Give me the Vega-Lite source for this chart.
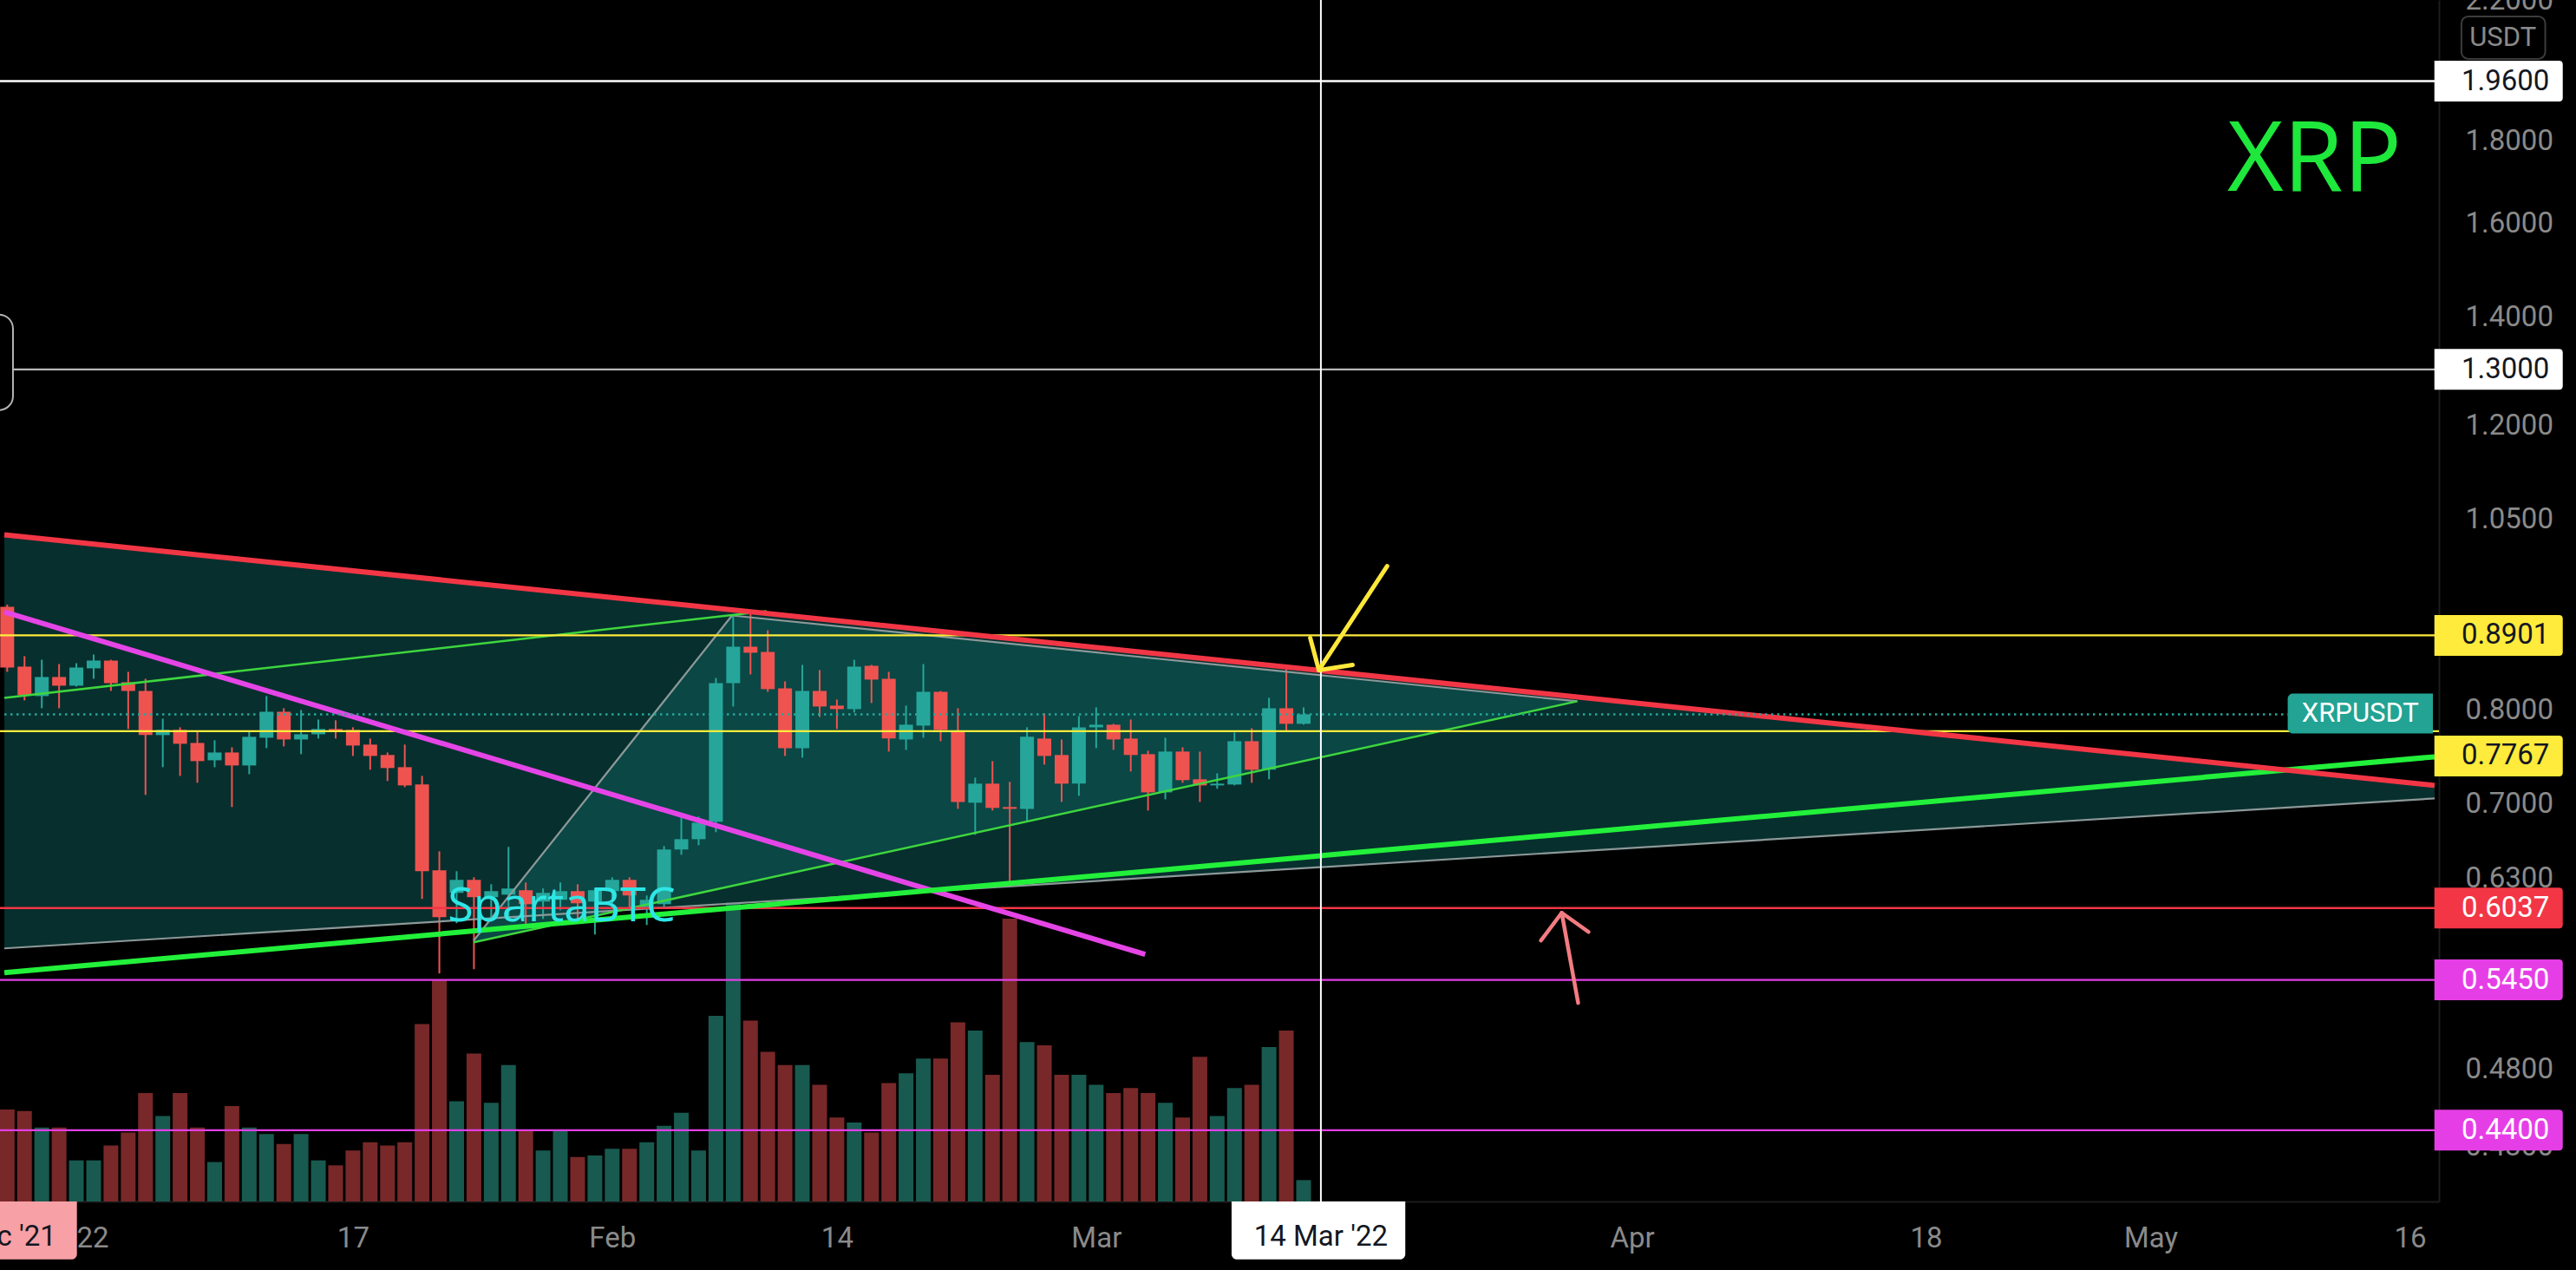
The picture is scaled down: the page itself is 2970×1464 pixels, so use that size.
{
  "$schema": "https://vega.github.io/schema/vega-lite/v6.json",
  "width": 2812,
  "height": 1385,
  "autosize": {"type": "none"},
  "padding": {"left": 0, "top": 0, "right": 158, "bottom": 79},
  "background": "#000000",
  "config": {"view": {"stroke": null}, "axis": {"grid": false, "titleOpacity": 0}, "legend": {"disable": true}},
  "datasets": {
    "candles": [
      {"date":"2021-12-28","open":0.9271,"high":0.93,"low":0.8451,"close":0.8503,"volume":560},
      {"date":"2021-12-29","open":0.8514,"high":0.8641,"low":0.8114,"close":0.8174,"volume":550},
      {"date":"2021-12-30","open":0.8164,"high":0.8598,"low":0.8024,"close":0.8389,"volume":450},
      {"date":"2021-12-31","open":0.8389,"high":0.8545,"low":0.8024,"close":0.8286,"volume":450},
      {"date":"2022-01-01","open":0.8286,"high":0.8556,"low":0.8275,"close":0.8503,"volume":250},
      {"date":"2022-01-02","open":0.8493,"high":0.8662,"low":0.8368,"close":0.8588,"volume":250},
      {"date":"2022-01-03","open":0.8588,"high":0.8598,"low":0.8224,"close":0.8316,"volume":340},
      {"date":"2022-01-04","open":0.8327,"high":0.8451,"low":0.779,"close":0.8224,"volume":420},
      {"date":"2022-01-05","open":0.8224,"high":0.8368,"low":0.7092,"close":0.7723,"volume":660},
      {"date":"2022-01-06","open":0.7723,"high":0.7906,"low":0.7378,"close":0.778,"volume":520},
      {"date":"2022-01-07","open":0.778,"high":0.7809,"low":0.7287,"close":0.7628,"volume":660},
      {"date":"2022-01-08","open":0.7637,"high":0.7771,"low":0.7216,"close":0.7442,"volume":450},
      {"date":"2022-01-09","open":0.7451,"high":0.7666,"low":0.7378,"close":0.7534,"volume":240},
      {"date":"2022-01-10","open":0.7534,"high":0.759,"low":0.6971,"close":0.7396,"volume":580},
      {"date":"2022-01-11","open":0.7396,"high":0.7771,"low":0.7305,"close":0.7704,"volume":450},
      {"date":"2022-01-12","open":0.7694,"high":0.8164,"low":0.7581,"close":0.7984,"volume":410},
      {"date":"2022-01-13","open":0.7984,"high":0.8024,"low":0.76,"close":0.7675,"volume":350},
      {"date":"2022-01-14","open":0.7675,"high":0.8004,"low":0.7516,"close":0.7732,"volume":410},
      {"date":"2022-01-15","open":0.7732,"high":0.7896,"low":0.7685,"close":0.779,"volume":250},
      {"date":"2022-01-16","open":0.779,"high":0.7887,"low":0.7685,"close":0.7771,"volume":220},
      {"date":"2022-01-17","open":0.778,"high":0.7809,"low":0.7497,"close":0.7609,"volume":310},
      {"date":"2022-01-18","open":0.7619,"high":0.7685,"low":0.7351,"close":0.7497,"volume":360},
      {"date":"2022-01-19","open":0.7507,"high":0.7534,"low":0.7234,"close":0.7369,"volume":340},
      {"date":"2022-01-20","open":0.7378,"high":0.7619,"low":0.7171,"close":0.7189,"volume":360},
      {"date":"2022-01-21","open":0.7198,"high":0.7287,"low":0.6116,"close":0.6362,"volume":1080},
      {"date":"2022-01-22","open":0.637,"high":0.6545,"low":0.55,"close":0.5959,"volume":1350},
      {"date":"2022-01-23","open":0.6169,"high":0.6362,"low":0.5908,"close":0.6284,"volume":610},
      {"date":"2022-01-24","open":0.6284,"high":0.6307,"low":0.5534,"close":0.6131,"volume":900},
      {"date":"2022-01-25","open":0.6131,"high":0.6245,"low":0.5922,"close":0.6184,"volume":600},
      {"date":"2022-01-26","open":0.6153,"high":0.6586,"low":0.5944,"close":0.6207,"volume":830},
      {"date":"2022-01-27","open":0.6192,"high":0.6261,"low":0.5893,"close":0.607,"volume":430},
      {"date":"2022-01-28","open":0.6093,"high":0.6207,"low":0.5944,"close":0.6169,"volume":310},
      {"date":"2022-01-29","open":0.6108,"high":0.6261,"low":0.6018,"close":0.6184,"volume":430},
      {"date":"2022-01-30","open":0.6184,"high":0.6245,"low":0.5922,"close":0.6078,"volume":270},
      {"date":"2022-01-31","open":0.6093,"high":0.6207,"low":0.5814,"close":0.6192,"volume":280},
      {"date":"2022-02-01","open":0.6184,"high":0.6307,"low":0.6041,"close":0.6284,"volume":320},
      {"date":"2022-02-02","open":0.6284,"high":0.6307,"low":0.6041,"close":0.6146,"volume":320},
      {"date":"2022-02-03","open":0.6033,"high":0.6146,"low":0.5893,"close":0.6108,"volume":360},
      {"date":"2022-02-04","open":0.607,"high":0.6594,"low":0.6033,"close":0.6562,"volume":460},
      {"date":"2022-02-05","open":0.6562,"high":0.6868,"low":0.6513,"close":0.6659,"volume":540},
      {"date":"2022-02-06","open":0.6659,"high":0.6877,"low":0.6602,"close":0.6817,"volume":310},
      {"date":"2022-02-07","open":0.6826,"high":0.8378,"low":0.6726,"close":0.8316,"volume":1130},
      {"date":"2022-02-08","open":0.8316,"high":0.9157,"low":0.8044,"close":0.8759,"volume":1820},
      {"date":"2022-02-09","open":0.8759,"high":0.918,"low":0.842,"close":0.8684,"volume":1100},
      {"date":"2022-02-10","open":0.8694,"high":0.8967,"low":0.8214,"close":0.8245,"volume":910},
      {"date":"2022-02-11","open":0.8255,"high":0.8337,"low":0.7497,"close":0.7581,"volume":830},
      {"date":"2022-02-12","open":0.7581,"high":0.8535,"low":0.7479,"close":0.8224,"volume":830},
      {"date":"2022-02-13","open":0.8224,"high":0.8472,"low":0.7925,"close":0.8044,"volume":710},
      {"date":"2022-02-14","open":0.8054,"high":0.8124,"low":0.779,"close":0.8014,"volume":510},
      {"date":"2022-02-15","open":0.8014,"high":0.8598,"low":0.7975,"close":0.8514,"volume":480},
      {"date":"2022-02-16","open":0.8524,"high":0.8535,"low":0.8084,"close":0.8358,"volume":420},
      {"date":"2022-02-17","open":0.8368,"high":0.8451,"low":0.7544,"close":0.7685,"volume":720},
      {"date":"2022-02-18","open":0.7675,"high":0.8054,"low":0.7562,"close":0.7838,"volume":780},
      {"date":"2022-02-19","open":0.7828,"high":0.8545,"low":0.7694,"close":0.8214,"volume":870},
      {"date":"2022-02-20","open":0.8214,"high":0.8224,"low":0.7656,"close":0.778,"volume":870},
      {"date":"2022-02-21","open":0.7771,"high":0.8024,"low":0.6953,"close":0.7022,"volume":1090},
      {"date":"2022-02-22","open":0.7014,"high":0.7269,"low":0.6701,"close":0.7207,"volume":1040},
      {"date":"2022-02-23","open":0.7207,"high":0.7442,"low":0.6936,"close":0.6962,"volume":770},
      {"date":"2022-02-24","open":0.6971,"high":0.7225,"low":0.6222,"close":0.6953,"volume":1720},
      {"date":"2022-02-25","open":0.6953,"high":0.7809,"low":0.6834,"close":0.7704,"volume":970},
      {"date":"2022-02-26","open":0.7685,"high":0.7965,"low":0.7405,"close":0.7497,"volume":950},
      {"date":"2022-02-27","open":0.7507,"high":0.7675,"low":0.7022,"close":0.7207,"volume":770},
      {"date":"2022-02-28","open":0.7207,"high":0.7935,"low":0.7083,"close":0.7809,"volume":770},
      {"date":"2022-03-01","open":0.7809,"high":0.8034,"low":0.7581,"close":0.7838,"volume":710},
      {"date":"2022-03-02","open":0.7838,"high":0.7848,"low":0.7562,"close":0.7675,"volume":660},
      {"date":"2022-03-03","open":0.7685,"high":0.7896,"low":0.7333,"close":0.7507,"volume":690},
      {"date":"2022-03-04","open":0.7516,"high":0.7553,"low":0.6936,"close":0.7118,"volume":660},
      {"date":"2022-03-05","open":0.7118,"high":0.7694,"low":0.7048,"close":0.7544,"volume":600},
      {"date":"2022-03-06","open":0.7544,"high":0.759,"low":0.7216,"close":0.7243,"volume":510},
      {"date":"2022-03-07","open":0.7252,"high":0.7544,"low":0.7022,"close":0.7189,"volume":880},
      {"date":"2022-03-08","open":0.7189,"high":0.7314,"low":0.7154,"close":0.7207,"volume":520},
      {"date":"2022-03-09","open":0.7198,"high":0.7751,"low":0.7189,"close":0.7656,"volume":690},
      {"date":"2022-03-10","open":0.7656,"high":0.7799,"low":0.7216,"close":0.7351,"volume":710},
      {"date":"2022-03-11","open":0.7351,"high":0.8144,"low":0.7252,"close":0.8024,"volume":940},
      {"date":"2022-03-12","open":0.8024,"high":0.8524,"low":0.7771,"close":0.7848,"volume":1040},
      {"date":"2022-03-13","open":0.7848,"high":0.8034,"low":0.7838,"close":0.7955,"volume":130}
    ],
    "levels": [
      {"price":1.96,"tag":1.96,"label":"1.9600","style":"white"},
      {"price":1.3,"tag":1.3,"label":"1.3000","style":"silver"},
      {"price":0.8901,"tag":0.8901,"label":"0.8901","style":"yellow"},
      {"price":0.7767,"tag":0.7497,"label":"0.7767","style":"yellow"},
      {"price":0.6037,"tag":0.6037,"label":"0.6037","style":"red"},
      {"price":0.545,"tag":0.545,"label":"0.5450","style":"magenta"},
      {"price":0.44,"tag":0.44,"label":"0.4400","style":"magenta"}
    ],
    "segments": [
      {"name":"res","t1":"2021-12-27T20:00:00Z","p1":1.0271,"t2":"2022-05-17T10:24:00Z","p2":0.7189},
      {"name":"sup","t1":"2021-12-27T20:00:00Z","p1":0.5506,"t2":"2022-05-17T10:24:00Z","p2":0.7488},
      {"name":"down","t1":"2021-12-27T20:00:00Z","p1":0.9203,"t2":"2022-03-03T20:00:00Z","p2":0.5651},
      {"name":"thinUpper","t1":"2021-12-27T20:00:00Z","p1":0.8144,"t2":"2022-02-09T22:24:00Z","p2":0.9214},
      {"name":"thinLower","t1":"2022-01-23T23:36:00Z","p1":0.5749,"t2":"2022-03-28T20:00:00Z","p2":0.8104},
      {"name":"grayAB","t1":"2022-01-23T23:36:00Z","p1":0.5764,"t2":"2022-02-07T22:24:00Z","p2":0.9157},
      {"name":"grayBD","t1":"2022-02-07T22:24:00Z","p1":0.9157,"t2":"2022-03-28T20:00:00Z","p2":0.8104},
      {"name":"grayLow","t1":"2021-12-27T20:00:00Z","p1":0.57,"t2":"2022-05-17T10:24:00Z","p2":0.7057},
      {"name":"yArrow","t1":"2022-03-17T20:00:00Z","p1":0.9825,"t2":"2022-03-13T21:12:00Z","p2":0.8472},
      {"name":"yArrow","t1":"2022-03-13T21:12:00Z","p1":0.8472,"t2":"2022-03-13T09:12:00Z","p2":0.8868},
      {"name":"yArrow","t1":"2022-03-13T21:12:00Z","p1":0.8472,"t2":"2022-03-15T20:00:00Z","p2":0.8535},
      {"name":"pArrow","t1":"2022-03-28T21:12:00Z","p1":0.5274,"t2":"2022-03-27T22:24:00Z","p2":0.5996},
      {"name":"pArrow","t1":"2022-03-27T22:24:00Z","p1":0.5996,"t2":"2022-03-26T17:36:00Z","p2":0.5764},
      {"name":"pArrow","t1":"2022-03-27T22:24:00Z","p1":0.5996,"t2":"2022-03-29T11:36:00Z","p2":0.5835}
    ],
    "wedge": [
      {"t":"2021-12-27T20:00:00Z","top":1.0271,"bot":0.57},
      {"t":"2022-05-17T10:24:00Z","top":0.7189,"bot":0.7057}
    ],
    "triangle": [
      {"t":"2022-01-23T23:36:00Z","top":0.5756,"bot":0.5756},
      {"t":"2022-02-07T22:24:00Z","top":0.9157,"bot":0.6231},
      {"t":"2022-03-28T20:00:00Z","top":0.8104,"bot":0.8104}
    ]
  },
  "resolve": {"scale": {"y": "independent"}},
  "layer": [
    {
      "layer": [
        {
          "data": {"name": "wedge"},
          "mark": {"type": "area", "color": "#072f2e", "opacity": 1},
          "encoding": {
            "x": {
              "field": "t", "type": "temporal",
              "scale": {"type": "utc", "nice": false, "domain": [{"year":2021,"month":12,"date":27,"hours":20,"utc":true},{"year":2022,"month":5,"date":17,"hours":10,"minutes":24,"utc":true}]},
              "axis": {
                "title": null,
                "values": [{"year":2022,"month":1,"date":1,"utc":true},{"year":2022,"month":1,"date":17,"utc":true},{"year":2022,"month":2,"date":1,"utc":true},{"year":2022,"month":2,"date":14,"utc":true},{"year":2022,"month":3,"date":1,"utc":true},{"year":2022,"month":4,"date":1,"utc":true},{"year":2022,"month":4,"date":18,"utc":true},{"year":2022,"month":5,"date":1,"utc":true},{"year":2022,"month":5,"date":16,"utc":true}],
                "labelExpr": "utcdate(datum.value) == 1 ? (utcmonth(datum.value) == 0 ? utcFormat(datum.value, '%Y') : utcFormat(datum.value, '%b')) : utcFormat(datum.value, '%-d')",
                "labelColor": "#8a8a8a", "labelFont": "Roboto", "labelFontSize": 33, "labelPadding": 26,
                "ticks": false, "tickSize": 0, "grid": false, "domain": true, "domainColor": "#1c1c1c", "domainWidth": 2,
                "labelOverlap": false, "labelFlush": false
              }
            },
            "y": {"field": "top", "type": "quantitative", "scale": {"type": "log", "domain": [0.3975, 2.2], "nice": false}, "axis": null},
            "y2": {"field": "bot"}
          }
        },
        {
          "data": {"name": "triangle"},
          "mark": {"type": "area", "color": "#0a4745", "opacity": 1},
          "encoding": {
            "x": {"field": "t", "type": "temporal"},
            "y": {"field": "top", "type": "quantitative"},
            "y2": {"field": "bot"}
          }
        }
      ]
    },
    {
      "data": {"name": "candles"},
      "mark": {"type": "bar", "width": 17},
      "encoding": {
        "x": {"field": "date", "type": "temporal"},
        "y": {"field": "volume", "type": "quantitative", "scale": {"domain": [0, 7310], "nice": false}, "axis": null},
        "color": {"condition": {"test": "datum.close >= datum.open", "value": "#185a50"}, "value": "#782828"}
      }
    },
    {
      "layer": [
        {
          "data": {"name": "candles"},
          "mark": {"type": "rule", "strokeWidth": 2},
          "encoding": {
            "x": {"field": "date", "type": "temporal"},
            "y": {
              "field": "low", "type": "quantitative",
              "scale": {"type": "log", "domain": [0.3975, 2.2], "nice": false},
              "axis": {
                "title": null, "orient": "right",
                "values": [2.2, 1.8, 1.6, 1.4, 1.2, 1.05, 0.8, 0.7, 0.63, 0.48, 0.43],
                "format": ".4f", "labelColor": "#8a8a8a", "labelFont": "Roboto", "labelFontSize": 33,
                "labelPadding": 30, "ticks": false, "tickSize": 0, "grid": false,
                "domain": true, "domainColor": "#1c1c1c", "domainWidth": 2,
                "labelOverlap": false, "labelFlush": false, "labelBound": false
              }
            },
            "y2": {"field": "high"},
            "color": {"condition": {"test": "datum.close >= datum.open", "value": "#26a69a"}, "value": "#ef5350"}
          }
        },
        {
          "data": {"name": "candles"},
          "mark": {"type": "bar", "width": 16},
          "encoding": {
            "x": {"field": "date", "type": "temporal"},
            "y": {"field": "open", "type": "quantitative"},
            "y2": {"field": "close"},
            "color": {"condition": {"test": "datum.close >= datum.open", "value": "#26a69a"}, "value": "#ef5350"}
          }
        },
        {
          "data": {"name": "segments"},
          "transform": [{"filter": "indexof(['grayAB','grayBD','grayLow'], datum.name) >= 0"}],
          "mark": {"type": "rule", "color": "#8d9999", "strokeWidth": 2.2},
          "encoding": {
            "x": {"field": "t1", "type": "temporal"}, "x2": {"field": "t2"},
            "y": {"field": "p1", "type": "quantitative"}, "y2": {"field": "p2"}
          }
        },
        {
          "data": {"name": "segments"},
          "transform": [{"filter": "indexof(['thinUpper','thinLower'], datum.name) >= 0"}],
          "mark": {"type": "rule", "color": "#3ed63e", "strokeWidth": 2.5},
          "encoding": {
            "x": {"field": "t1", "type": "temporal"}, "x2": {"field": "t2"},
            "y": {"field": "p1", "type": "quantitative"}, "y2": {"field": "p2"}
          }
        },
        {
          "data": {"name": "levels"},
          "mark": {"type": "rule", "strokeWidth": 2.3},
          "encoding": {
            "y": {"field": "price", "type": "quantitative"},
            "stroke": {"field": "style", "type": "nominal", "legend": null,
              "scale": {"domain": ["white", "silver", "yellow", "red", "magenta"], "range": ["#ffffff", "#b8b8b8", "#ffeb3b", "#f23645", "#e23fe6"]}}
          }
        },
        {
          "data": {"name": "segments"},
          "transform": [{"filter": "datum.name == 'down'"}],
          "mark": {"type": "rule", "color": "#e545e6", "strokeWidth": 6},
          "encoding": {
            "x": {"field": "t1", "type": "temporal"}, "x2": {"field": "t2"},
            "y": {"field": "p1", "type": "quantitative"}, "y2": {"field": "p2"}
          }
        },
        {
          "data": {"name": "segments"},
          "transform": [{"filter": "datum.name == 'sup'"}],
          "mark": {"type": "rule", "color": "#22f03a", "strokeWidth": 6},
          "encoding": {
            "x": {"field": "t1", "type": "temporal"}, "x2": {"field": "t2"},
            "y": {"field": "p1", "type": "quantitative"}, "y2": {"field": "p2"}
          }
        },
        {
          "data": {"name": "segments"},
          "transform": [{"filter": "datum.name == 'res'"}],
          "mark": {"type": "rule", "color": "#f23645", "strokeWidth": 6},
          "encoding": {
            "x": {"field": "t1", "type": "temporal"}, "x2": {"field": "t2"},
            "y": {"field": "p1", "type": "quantitative"}, "y2": {"field": "p2"}
          }
        },
        {
          "data": {"values": [{}]},
          "mark": {"type": "rule", "color": "#26a69a", "strokeWidth": 2.5, "strokeDash": [2.5, 4.5]},
          "encoding": {
            "x": {"datum": {"year":2021,"month":12,"date":27,"hours":20,"utc":true}, "type": "temporal"},
            "x2": {"datum": {"year":2022,"month":5,"date":8,"hours":22,"minutes":24,"utc":true}},
            "y": {"datum": 0.7955}
          }
        },
        {
          "data": {"values": [{}]},
          "mark": {"type": "rule", "color": "#ffffff", "strokeWidth": 2},
          "encoding": {
            "x": {"datum": {"year":2022,"month":3,"date":14,"utc":true}, "type": "temporal"}
          }
        },
        {
          "data": {"name": "segments"},
          "transform": [{"filter": "datum.name == 'yArrow'"}],
          "mark": {"type": "rule", "color": "#ffe83b", "strokeWidth": 5, "strokeCap": "round"},
          "encoding": {
            "x": {"field": "t1", "type": "temporal"}, "x2": {"field": "t2"},
            "y": {"field": "p1", "type": "quantitative"}, "y2": {"field": "p2"}
          }
        },
        {
          "data": {"name": "segments"},
          "transform": [{"filter": "datum.name == 'pArrow'"}],
          "mark": {"type": "rule", "color": "#f27c82", "strokeWidth": 4.5, "strokeCap": "round"},
          "encoding": {
            "x": {"field": "t1", "type": "temporal"}, "x2": {"field": "t2"},
            "y": {"field": "p1", "type": "quantitative"}, "y2": {"field": "p2"}
          }
        },
        {
          "data": {"values": [{}]},
          "mark": {"type": "text", "text": "SpartaBTC", "font": "Open Sans", "fontSize": 54, "color": "#2ee6e6", "align": "left", "baseline": "alphabetic"},
          "encoding": {
            "x": {"datum": {"year":2022,"month":1,"date":22,"hours":11,"minutes":36,"utc":true}, "type": "temporal"},
            "y": {"datum": 0.5923}
          }
        },
        {
          "data": {"values": [{}]},
          "mark": {"type": "text", "text": "XRP", "font": "Open Sans", "fontSize": 112, "color": "#1ee83c", "align": "center", "baseline": "alphabetic"},
          "encoding": {
            "x": {"datum": {"year":2022,"month":5,"date":10,"hours":11,"minutes":36,"utc":true}, "type": "temporal"},
            "y": {"datum": 1.6768}
          }
        },
        {
          "data": {"values": [{}]},
          "mark": {"type": "rect", "fill": "#000000", "stroke": "#b4b4b4", "strokeWidth": 2, "cornerRadius": 16},
          "encoding": {
            "x": {"datum": {"year":2021,"month":12,"date":17,"hours":20,"utc":true}, "type": "temporal"},
            "x2": {"datum": {"year":2021,"month":12,"date":28,"hours":8,"utc":true}},
            "y": {"datum": 1.4055},
            "y2": {"datum": 1.2269}
          }
        },
        {
          "data": {"name": "levels"},
          "mark": {"type": "point", "shape": "M-1,-0.3176H0.94Q1,-0.3176 1,-0.26V0.26Q1,0.3176 0.94,0.3176H-1Z", "filled": true, "size": 21904, "strokeWidth": 0, "opacity": 1},
          "encoding": {
            "x": {"datum": {"year":2022,"month":5,"date":21,"hours":3,"minutes":12,"utc":true}, "type": "temporal"},
            "y": {"field": "tag", "type": "quantitative"},
            "fill": {"field": "style", "type": "nominal", "legend": null,
              "scale": {"domain": ["white", "silver", "yellow", "red", "magenta"], "range": ["#ffffff", "#ffffff", "#ffeb3b", "#f23645", "#e63ee6"]}}
          }
        },
        {
          "data": {"name": "levels"},
          "mark": {"type": "text", "align": "left", "baseline": "middle", "font": "Roboto", "fontSize": 33},
          "encoding": {
            "x": {"datum": {"year":2022,"month":5,"date":18,"hours":23,"minutes":36,"utc":true}, "type": "temporal"},
            "y": {"field": "tag", "type": "quantitative"},
            "text": {"field": "label"},
            "color": {"field": "style", "type": "nominal", "legend": null,
              "scale": {"domain": ["white", "silver", "yellow", "red", "magenta"], "range": ["#131722", "#131722", "#131722", "#ffffff", "#ffffff"]}}
          }
        },
        {
          "data": {"values": [{}]},
          "mark": {"type": "rect", "fill": "#22a393", "cornerRadiusTopLeft": 6, "cornerRadiusBottomLeft": 6},
          "encoding": {
            "x": {"datum": {"year":2022,"month":5,"date":8,"hours":22,"minutes":24,"utc":true}, "type": "temporal"},
            "x2": {"datum": {"year":2022,"month":5,"date":17,"hours":8,"utc":true}},
            "y": {"datum": 0.8194},
            "y2": {"datum": 0.7742}
          }
        },
        {
          "data": {"values": [{}]},
          "mark": {"type": "text", "text": "XRPUSDT", "font": "Roboto", "fontSize": 31, "color": "#ffffff", "align": "center", "baseline": "middle"},
          "encoding": {
            "x": {"datum": {"year":2022,"month":5,"date":13,"hours":3,"minutes":12,"utc":true}, "type": "temporal"},
            "y": {"datum": 0.7955}
          }
        },
        {
          "data": {"values": [{}]},
          "mark": {"type": "rect", "fill": "#ffffff", "cornerRadiusBottomLeft": 6, "cornerRadiusBottomRight": 6},
          "encoding": {
            "x": {"datum": {"year":2022,"month":3,"date":8,"hours":20,"utc":true}, "type": "temporal"},
            "x2": {"datum": {"year":2022,"month":3,"date":18,"hours":21,"minutes":12,"utc":true}},
            "y": {"datum": 0.3975},
            "y2": {"datum": 0.366}
          }
        },
        {
          "data": {"values": [{}]},
          "mark": {"type": "text", "text": "14 Mar '22", "font": "Roboto", "fontSize": 33, "color": "#131722", "align": "center", "baseline": "alphabetic"},
          "encoding": {
            "x": {"datum": {"year":2022,"month":3,"date":14,"utc":true}, "type": "temporal"},
            "y": {"datum": 0.3732}
          }
        },
        {
          "data": {"values": [{}]},
          "mark": {"type": "rect", "fill": "#f7a0a5", "cornerRadiusBottomLeft": 6, "cornerRadiusBottomRight": 6},
          "encoding": {
            "x": {"datum": {"year":2021,"month":12,"date":21,"hours":23,"minutes":36,"utc":true}, "type": "temporal"},
            "x2": {"datum": {"year":2022,"month":1,"date":1,"minutes":48,"utc":true}},
            "y": {"datum": 0.3975},
            "y2": {"datum": 0.366}
          }
        },
        {
          "data": {"values": [{}]},
          "mark": {"type": "text", "text": "27 Dec '21", "font": "Roboto", "fontSize": 33, "color": "#131722", "align": "center", "baseline": "alphabetic"},
          "encoding": {
            "x": {"datum": {"year":2021,"month":12,"date":27,"utc":true}, "type": "temporal"},
            "y": {"datum": 0.3732}
          }
        },
        {
          "data": {"values": [{}]},
          "mark": {"type": "rect", "fill": "#000000", "stroke": "#3c3c3c", "strokeWidth": 2, "cornerRadius": 8},
          "encoding": {
            "x": {"datum": {"year":2022,"month":5,"date":18,"hours":23,"minutes":36,"utc":true}, "type": "temporal"},
            "x2": {"datum": {"year":2022,"month":5,"date":23,"hours":20,"utc":true}},
            "y": {"datum": 2.149},
            "y2": {"datum": 2.023}
          }
        },
        {
          "data": {"values": [{}]},
          "mark": {"type": "text", "text": "USDT", "font": "Roboto", "fontSize": 31, "color": "#8a8a8a", "align": "center", "baseline": "middle"},
          "encoding": {
            "x": {"datum": {"year":2022,"month":5,"date":21,"hours":9,"minutes":12,"utc":true}, "type": "temporal"},
            "y": {"datum": 2.084}
          }
        }
      ]
    }
  ]
}
